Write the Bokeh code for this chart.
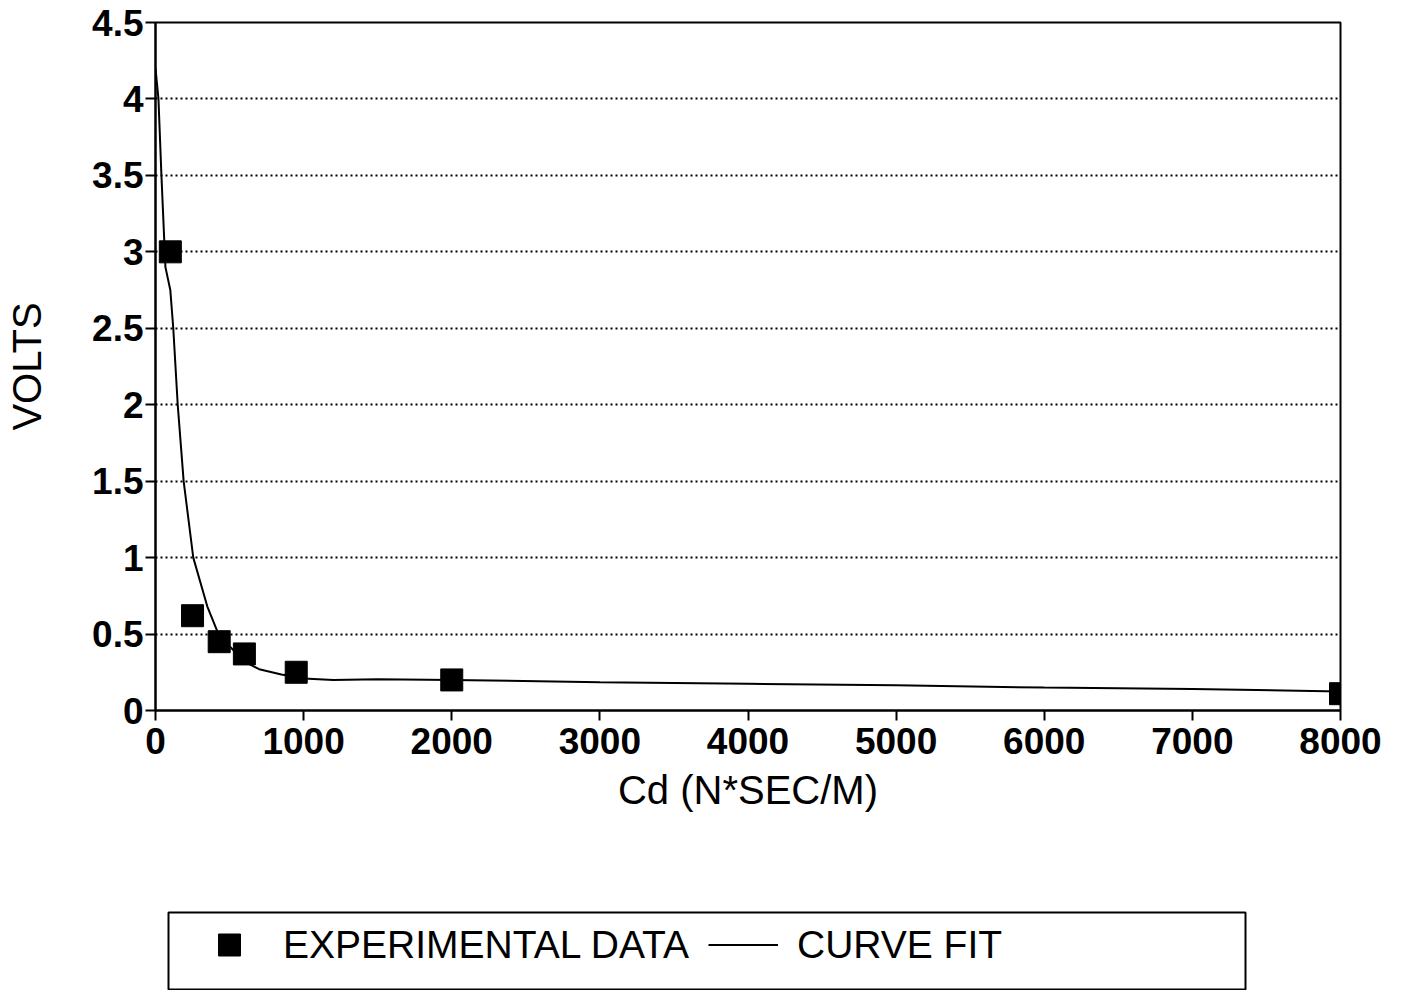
from bokeh.plotting import figure
from bokeh.models import FixedTicker, CustomJSTickFormatter, Legend, LegendItem, Range1d, BoxAnnotation
from bokeh.layouts import column
from bokeh.embed import file_html
from bokeh.resources import INLINE

# Experimental data
exp_cd = [100, 250, 430, 600, 950, 2000, 8000]
exp_volts = [3.0, 0.62, 0.45, 0.37, 0.25, 0.20, 0.11]

# Curve fit
fit_cd = [0, 20, 40, 67, 100, 120, 150, 190, 255, 350, 425, 500, 600, 700, 850,
          1000, 1200, 1500, 2000, 3000, 4000, 5000, 6000, 7000, 8000]
fit_volts = [4.2, 4.0, 3.5, 2.9, 2.75, 2.5, 2.0, 1.5, 1.0, 0.68, 0.5, 0.42, 0.32, 0.27, 0.235,
             0.21, 0.20, 0.205, 0.20, 0.185, 0.175, 0.165, 0.15, 0.14, 0.125]

x_ticks = [0, 1000, 2000, 3000, 4000, 5000, 6000, 7000, 8000]
y_ticks = [0, 0.5, 1, 1.5, 2, 2.5, 3, 3.5, 4, 4.5]

FONT = "Liberation Sans"

p = figure(width=1397, height=838, output_backend="svg", toolbar_location=None,
           x_range=Range1d(0, 8000), y_range=Range1d(0, 4.5),
           min_border_left=155, min_border_right=57, min_border_top=22, min_border_bottom=128)
p.background_fill_color = "white"
p.border_fill_color = "white"
p.outline_line_color = "black"
p.outline_line_width = 2

p.xgrid.visible = False
p.ygrid.grid_line_color = "black"
p.ygrid.grid_line_dash = "2 3"
p.ygrid.grid_line_width = 1.8
p.ygrid.ticker = FixedTicker(ticks=y_ticks)

fmt = CustomJSTickFormatter(code="return tick.toString();")
for ax, ticks, label in ((p.xaxis[0], x_ticks, "Cd (N*SEC/M)"), (p.yaxis[0], y_ticks, "VOLTS")):
    ax.ticker = FixedTicker(ticks=ticks)
    ax.formatter = fmt
    ax.axis_label = label
    ax.axis_line_color = "black"
    ax.axis_line_width = 2
    ax.major_tick_line_color = "black"
    ax.major_tick_line_width = 2
    ax.major_tick_out = 10
    ax.major_tick_in = 0
    ax.minor_tick_line_color = None
    ax.major_label_text_font = FONT
    ax.major_label_text_font_size = "37px"
    ax.major_label_text_font_style = "bold"
    ax.major_label_text_color = "black"
    ax.axis_label_text_font = FONT
    ax.axis_label_text_font_size = "40px"
    ax.axis_label_text_font_style = "normal"
    ax.axis_label_text_color = "black"

p.xaxis.major_label_standoff = 7
p.xaxis.axis_label_standoff = 11
p.yaxis.major_label_standoff = 2
p.yaxis.axis_label_standoff = 40

p.line(fit_cd, fit_volts, line_color="black", line_width=2)
p.scatter(exp_cd, exp_volts, marker="square", size=22, fill_color="black", line_color="black")

# Legend panel below the chart (same side borders so the frames line up)
lg = figure(width=1397, height=152, output_backend="svg", toolbar_location=None,
            x_range=Range1d(0, 1185), y_range=Range1d(0, 152),
            x_axis_type=None, y_axis_type=None,
            min_border_left=155, min_border_right=57, min_border_top=0, min_border_bottom=0)
lg.grid.visible = False
lg.outline_line_color = None
lg.background_fill_color = "white"
lg.border_fill_color = "white"

box = BoxAnnotation(left=13, right=1090, bottom=1, top=78,
                    fill_alpha=0, line_color="black", line_alpha=1.0, line_width=2)
lg.add_layout(box)

# hidden copies of the series, used only to draw the legend keys
k_sq = lg.scatter(exp_cd, exp_volts, marker="square", size=22, fill_color="black",
                  line_color="black", visible=False)
k_ln = lg.line(fit_cd, fit_volts, line_color="black", line_width=2, visible=False)

legend = Legend(items=[LegendItem(label="EXPERIMENTAL DATA", renderers=[k_sq]),
                       LegendItem(label="CURVE FIT", renderers=[k_ln])],
                orientation="horizontal", location=(39, 18),
                glyph_width=70, glyph_height=55, label_standoff=19, spacing=19,
                padding=0, margin=0, label_height=36,
                border_line_color=None, background_fill_alpha=0,
                inactive_fill_alpha=0,
                label_text_font=FONT, label_text_font_size="39px",
                label_text_font_style="normal", label_text_color="black")
lg.add_layout(legend, "center")

layout = column(p, lg, spacing=0)
open("out.html", "w").write(file_html(layout, INLINE))
